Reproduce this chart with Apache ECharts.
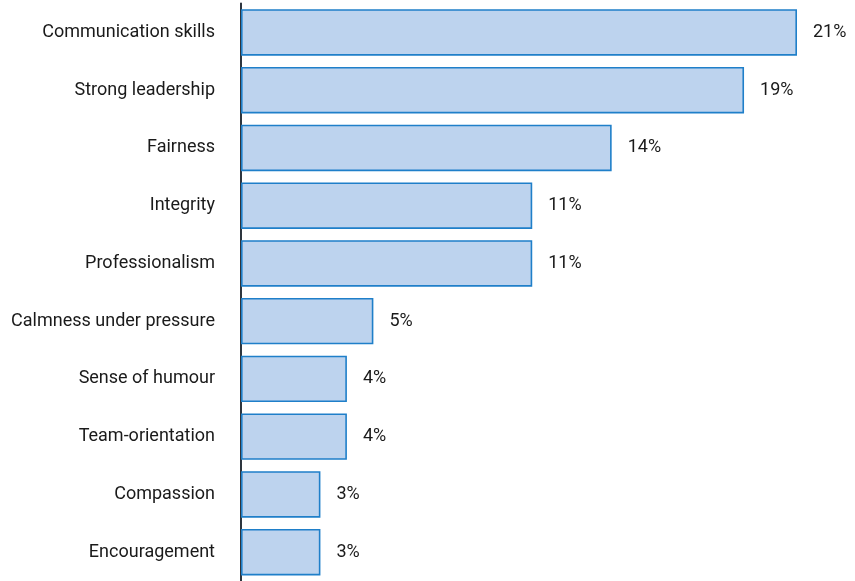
<!DOCTYPE html>
<html><head><meta charset="utf-8">
<script src="https://cdn.jsdelivr.net/npm/echarts@6/dist/echarts.min.js"></script>
<style>html,body{margin:0;padding:0;background:#fff}#c{width:855px;height:581px}</style>
</head><body><div id="c"></div>
<script>
const categories = ["Communication skills","Strong leadership","Fairness","Integrity","Professionalism","Calmness under pressure","Sense of humour","Team-orientation","Compassion","Encouragement"];
const values = [21,19,14,11,11,5,4,4,3,3];
const FONT = '"Roboto", sans-serif';
const chart = echarts.init(document.getElementById('c'), null, {renderer:'canvas'});
chart.setOption({
  animation:false,
  grid:{left:241, right:58, top:3.5, height:580, containLabel:false},
  xAxis:{type:'value', min:0, max:21, show:false},
  yAxis:{type:'category', data:categories, inverse:true,
    axisLine:{show:true, lineStyle:{color:'#17202a', width:1.8}},
    axisTick:{show:false},
    axisLabel:{color:'#1a1a1a', fontSize:18, fontFamily:FONT, margin:26}},
  series:[{type:'bar', data:values, barWidth:46.5,
    itemStyle:{color:'#bdd3ee', borderColor:'#1f7fc9', borderWidth:1.6},
    label:{show:true, position:'right', distance:16, formatter:'{c}%', color:'#1a1a1a', fontSize:18, fontFamily:FONT}}]
});
</script></body></html>
